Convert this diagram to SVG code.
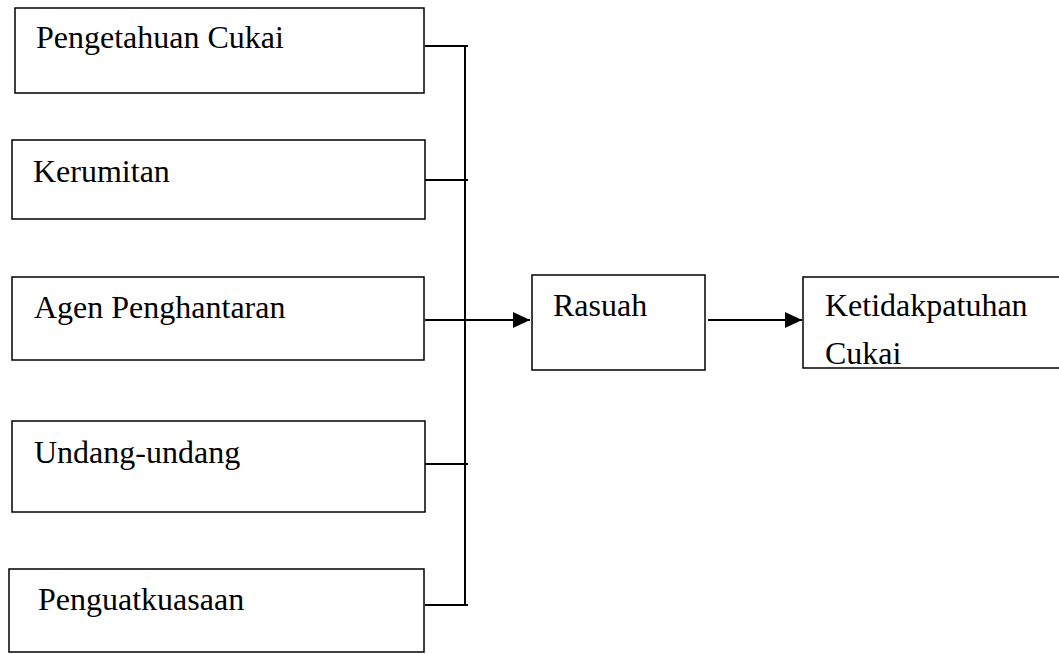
<svg xmlns="http://www.w3.org/2000/svg" width="1059" height="654" viewBox="0 0 1059 654">
<style>
.box{fill:#fff;stroke:#000;stroke-width:1.5}
.t{font-family:"Liberation Serif","Times New Roman",serif;font-size:32px;fill:#000}
.ln{stroke:#000;stroke-width:2;fill:none}
</style>
<defs>
<marker id="ah" markerWidth="18" markerHeight="16" refX="17" refY="8" orient="auto" markerUnits="userSpaceOnUse">
<path d="M0,0 L17,8 L0,16 Z" fill="#000"/>
</marker>
<clipPath id="kc"><rect x="803" y="277" width="256" height="87"/></clipPath>
</defs>
<rect width="1059" height="654" fill="#fff"/>
<g id="n1"><rect class="box" x="15" y="8" width="409" height="85"/><text class="t" x="36" y="48">Pengetahuan Cukai</text></g>
<g id="n2"><rect class="box" x="12" y="140" width="413" height="79"/><text class="t" x="33" y="182">Kerumitan</text></g>
<g id="n3"><rect class="box" x="12" y="277" width="412" height="83"/><text class="t" x="34" y="318">Agen Penghantaran</text></g>
<g id="n4"><rect class="box" x="12" y="421" width="413" height="91"/><text class="t" x="34" y="463">Undang-undang</text></g>
<g id="n5"><rect class="box" x="9" y="569" width="415" height="83"/><text class="t" x="38" y="610">Penguatkuasaan</text></g>
<g id="n6"><rect class="box" x="532" y="275" width="173" height="95"/><text class="t" x="553" y="316">Rasuah</text></g>
<g id="n7"><rect class="box" x="803" y="277" width="262" height="91"/><g clip-path="url(#kc)"><text class="t" x="825" y="316">Ketidakpatuhan</text><text class="t" x="825" y="364">Cukai</text></g></g>
<g id="connectors">
<path class="ln" d="M425,46 H468 M425,180 H468 M425,464 H468 M425,605 H468 M465,45 V606"/>
<path class="ln" d="M425,320 H530" marker-end="url(#ah)"/>
<path class="ln" d="M708,320 H802" marker-end="url(#ah)"/>
</g>
</svg>
